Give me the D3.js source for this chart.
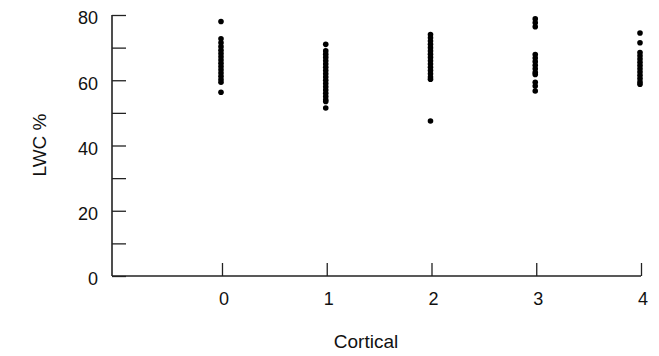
<!DOCTYPE html>
<html>
<head>
<meta charset="utf-8">
<script src="https://cdn.jsdelivr.net/npm/d3@7"></script>
<style>
  body { margin: 0; background: #fff; }
  svg { display: block; font-family: "Liberation Sans", Arial, sans-serif; }
</style>
</head>
<body>
<svg id="chart" width="659" height="356"></svg>
<script>
const categories = [0, 1, 2, 3, 4];
const lwc0 = [78, 72.7, 71.5, 70.3, 69.2, 68.2, 67.2, 66.2, 65.2, 64.2, 63.2, 62.2, 61.2, 60.2, 59.4, 56.3];
const lwc1 = [71, 69, 68, 67, 66, 65, 64, 63, 62, 61, 60, 59, 58, 57, 56, 55, 54, 53.5, 51.5];
const lwc2 = [74, 73, 72, 71, 70, 69, 68, 67, 66, 65, 64, 63, 62, 61, 60.3, 47.5];
const lwc3 = [78.8, 77.6, 76.4, 67.9, 66.8, 65.7, 64.6, 63.5, 62.4, 61.8, 59.4, 58.2, 56.7];
const lwc4 = [74.5, 71.5, 68.5, 67.5, 66.5, 65.5, 64.5, 63.5, 62.5, 61.5, 60.5, 59.5, 58.8];
const seriesValues = [lwc0, lwc1, lwc2, lwc3, lwc4];
const yTicks = [0, 10, 20, 30, 40, 50, 60, 70, 80];
const yTickLabels = ["0", "", "20", "", "40", "", "60", "", "80"];
const xTickLabels = ["0", "1", "2", "3", "4"];
const xTitle = "Cortical";
const yTitle = "LWC %";

const svg = d3.select("#chart");
const x = d3.scaleLinear().domain([-1.05, 4]).range([112, 641]);
const y = d3.scaleLinear().domain([0, 80]).range([276, 15]);

// Y axis
const yAxis = d3.axisRight(y).tickValues(yTicks).tickSize(14).tickFormat("");
const gy = svg.append("g").attr("transform", "translate(112,0)").call(yAxis);
gy.select(".domain").attr("d", `M0,${y(80)}V${y(0)}`).attr("stroke", "#222").attr("stroke-width", 1.6);
gy.selectAll(".tick line").attr("stroke", "#222").attr("stroke-width", 1.3);

svg.append("g").selectAll("text").data(yTicks).join("text")
  .attr("x", 98).attr("y", d => y(d) + 3).attr("dy", "0.35em")
  .attr("text-anchor", "end").attr("font-size", 18).attr("fill", "#111")
  .text((d, i) => yTickLabels[i]);

// X axis
const xAxis = d3.axisTop(x).tickValues(categories).tickSize(13).tickFormat("");
const gx = svg.append("g").attr("transform", `translate(0,${y(0)})`).call(xAxis);
gx.select(".domain").attr("d", `M${x(-1.05)},0H${x(4)}`).attr("stroke", "#222").attr("stroke-width", 1.6);
gx.selectAll(".tick line").attr("stroke", "#222").attr("stroke-width", 1.3);

svg.append("g").selectAll("text").data(categories).join("text")
  .attr("x", d => x(d) + 2).attr("y", 305)
  .attr("text-anchor", "middle").attr("font-size", 18).attr("fill", "#111")
  .text((d, i) => xTickLabels[i]);

// Dots
categories.forEach((c, i) => {
  svg.append("g").selectAll("circle").data(seriesValues[i]).join("circle")
    .attr("cx", x(c) - 1).attr("cy", d => y(d)).attr("r", 2.8).attr("fill", "#000");
});

// Titles
svg.append("text").attr("x", 366).attr("y", 348).attr("text-anchor", "middle")
  .attr("font-size", 19).attr("fill", "#111").text(xTitle);
svg.append("text").attr("transform", "translate(46,145) rotate(-90)").attr("text-anchor", "middle")
  .attr("font-size", 19).attr("fill", "#111").text(yTitle);
</script>
</body>
</html>
